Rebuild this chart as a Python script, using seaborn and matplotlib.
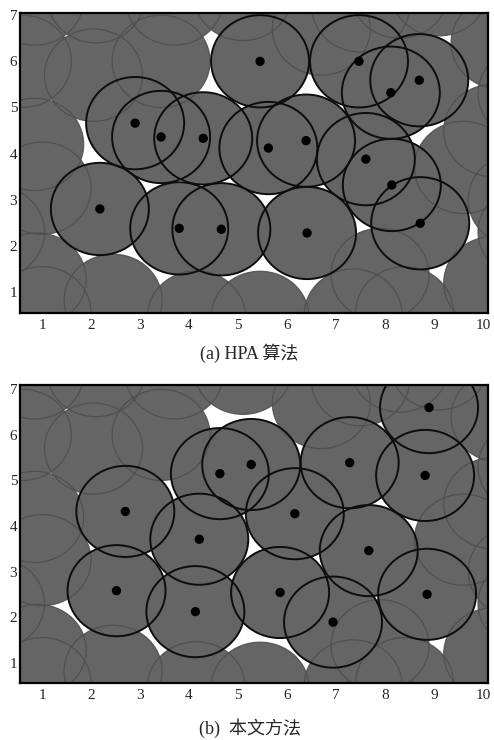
import numpy as np
import pandas as pd
import matplotlib.pyplot as plt
import seaborn as sns
from matplotlib.patches import Circle

# ==========================================================
# Data: sensor positions (sensing radius = 1)
# ==========================================================
radius = 1.0

# static background nodes (same in both panels)
bg_x = [0.85, 2.10, 3.70, 5.10, 6.70, 7.50, 8.30, 9.10, 10.35, 10.90,
        0.60, 2.05, 3.43, 0.85, 1.00, 0.05, 0.90, 1.00, 2.45, 4.15,
        5.45, 7.35, 7.90, 8.40, 10.20, 10.20, 9.60, 10.70, 10.90]
bg_y = [7.35, 7.40, 7.35, 7.45, 6.70, 7.20, 7.50, 7.55, 6.40, 5.30,
        6.00, 5.70, 6.00, 4.20, 3.25, 2.30, 1.28, 0.55, 0.82, 0.46,
        0.45, 0.50, 1.38, 0.55, 1.20, 4.50, 3.70, 3.00, 2.30]

# (a) HPA algorithm - mobile nodes
hpa_x = [5.45, 7.47, 8.70, 8.12, 2.90, 3.43, 4.29, 5.62, 6.39, 7.61,
         8.14, 8.72, 2.18, 3.80, 4.66, 6.41]
hpa_y = [6.00, 6.00, 5.59, 5.32, 4.66, 4.36, 4.33, 4.12, 4.28, 3.88,
         3.32, 2.49, 2.80, 2.38, 2.36, 2.28]

# (b) proposed method - mobile nodes
ours_x = [8.90, 5.27, 4.63, 7.28, 8.82, 2.70, 6.16, 4.21, 7.67, 2.52,
          5.86, 8.86, 4.13, 6.94]
ours_y = [6.60, 5.35, 5.15, 5.39, 5.11, 4.32, 4.27, 3.71, 3.46, 2.58,
          2.54, 2.50, 2.12, 1.89]

x_ticks = list(range(1, 11))
y_ticks = list(range(1, 8))

sns.set_style("white")
plt.rcParams['font.family'] = ['Liberation Serif', 'Noto Sans CJK SC']

fill_color = "#656565"


def draw_panel(ax, mx, my, ylim):
    for x, y in zip(bg_x + mx, bg_y + my):
        ax.add_patch(Circle((x, y), radius, facecolor=fill_color,
                            edgecolor="none", zorder=1))
    for x, y in zip(bg_x, bg_y):
        ax.add_patch(Circle((x, y), radius, fill=False, edgecolor="#4d4d4d",
                            lw=0.9, alpha=0.85, zorder=2))
    for x, y in zip(mx, my):
        ax.add_patch(Circle((x, y), radius, fill=False, edgecolor="#0d0d0d",
                            lw=1.4, zorder=3))
    pts = pd.DataFrame({"x": mx, "y": my})
    sns.scatterplot(data=pts, x="x", y="y", color="black", s=45,
                    edgecolor="none", ax=ax, zorder=4, legend=False)
    ax.set_xlim(0.55, 10.1)
    ax.set_ylim(*ylim)
    ax.set_xticks(x_ticks)
    ax.set_yticks(y_ticks)
    ax.set_xlabel("")
    ax.set_ylabel("")
    ax.set_facecolor("white")
    ax.tick_params(length=0, labelsize=11)
    ax.tick_params(axis="x", pad=4)
    ax.tick_params(axis="y", pad=2)
    for s in ax.spines.values():
        s.set_visible(True)
        s.set_color("black")
        s.set_linewidth(1.6)


fig = plt.figure(figsize=(4.94, 7.40), dpi=100)
ax1 = fig.add_axes([0.0405, 0.577, 0.947, 0.405])
ax2 = fig.add_axes([0.0405, 0.077, 0.947, 0.403])

draw_panel(ax1, hpa_x, hpa_y, (0.545, 7.04))
draw_panel(ax2, ours_x, ours_y, (0.553, 7.1))

fig.text(0.504, 1 - 353 / 740, "(a) HPA 算法", ha="center", va="center", fontsize=13)
fig.text(0.506, 1 - 728 / 740, "(b)  本文方法", ha="center", va="center", fontsize=13)

fig.savefig("out.png", dpi=100)
